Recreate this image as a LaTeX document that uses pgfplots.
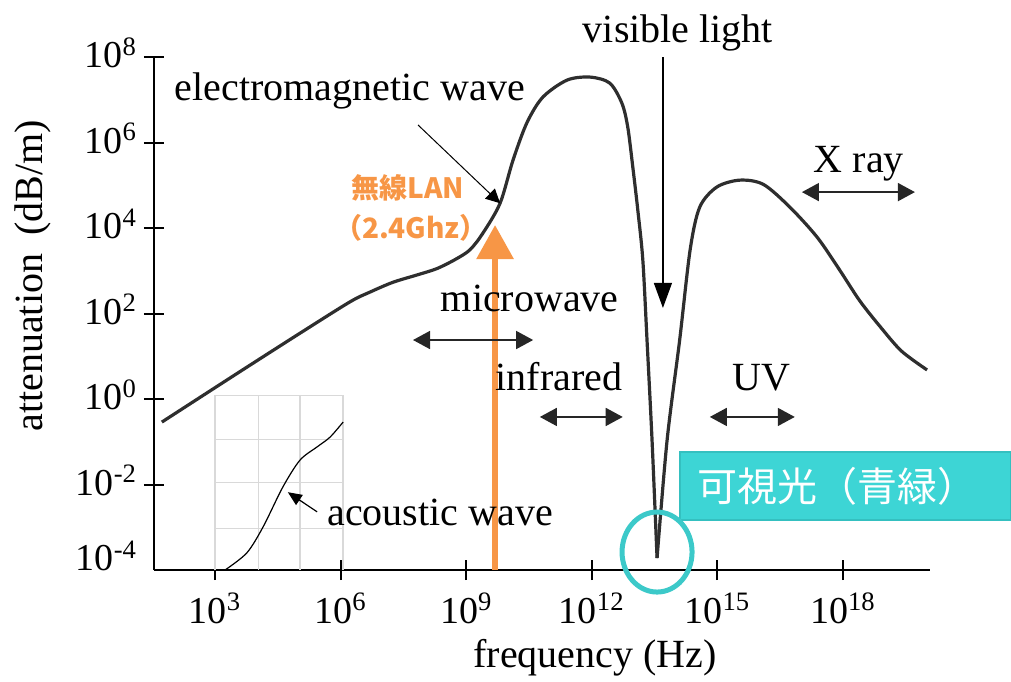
\documentclass[border=0pt]{standalone}
\usepackage{fontspec}
\setmainfont{Liberation Serif}
\newfontfamily\cjk{Noto Sans CJK JP}
\usepackage{pgfplots}
\pgfplotsset{compat=1.18}
\usepackage{pgfplotstable}
\usetikzlibrary{arrows.meta}
\definecolor{curvegray}{HTML}{2E2E2E}
\definecolor{lanorange}{HTML}{F79646}
\definecolor{tealbox}{HTML}{3DD5D5}
\definecolor{tealedge}{HTML}{34C0C0}
\definecolor{tealring}{HTML}{3CC9C9}
\definecolor{gridgray}{HTML}{D9D9D9}

\pgfplotstableread{
d e
1.73 -0.54
3.50 0.58
5.00 1.52
6.22 2.27
6.70 2.50
7.25 2.73
7.82 2.90
8.30 3.05
8.75 3.27
9.09 3.49
9.40 3.88
9.81 4.58
10.12 5.59
10.45 6.46
10.83 7.06
11.41 7.46
11.96 7.53
12.43 7.39
12.72 6.92
12.86 6.36
12.98 5.43
13.10 4.42
13.22 3.25
13.32 1.38
13.44 -0.96
13.56 -3.72
}\emleft
\pgfplotstableread{
d e
13.56 -3.72
13.80 -0.96
14.10 1.38
14.35 3.49
14.58 4.49
14.99 4.96
15.54 5.12
16.10 5.02
16.73 4.49
17.38 3.79
17.90 3.05
18.40 2.30
18.90 1.68
19.40 1.12
20.01 0.68
}\emright
\pgfplotstableread{
d e
3.24 -4.00
3.76 -3.60
4.15 -2.99
4.62 -2.06
5.03 -1.43
5.44 -1.12
5.75 -0.89
6.06 -0.54
}\acoustic

\begin{document}
\begin{tikzpicture}
\useasboundingbox (0,0) rectangle (505.5pt,340.5pt);
\begin{axis}[
  at={(77pt,55.5pt)}, anchor=south west,
  scale only axis, width=388pt, height=256.5pt,
  xmin=1.543, xmax=20.08, ymin=-4, ymax=8,
  axis x line*=bottom, axis y line*=left,
  axis line style={line width=1pt, black},
  tick align=center, major tick length=10pt,
  every tick/.style={black, line width=1pt},
  xtick={3,6,9,12,15,18},
  xticklabels={10\textsuperscript{3},10\textsuperscript{6},10\textsuperscript{9},10\textsuperscript{12},10\textsuperscript{15},10\textsuperscript{18}},
  ytick={-2,0,2,4,6,8},
  yticklabels={10\textsuperscript{-2},10\textsuperscript{0},10\textsuperscript{2},10\textsuperscript{4},10\textsuperscript{6},10\textsuperscript{8}},
  extra y ticks={-4}, extra y tick labels={10\textsuperscript{-4}},
  extra y tick style={major tick length=0pt, yticklabel style={xshift=-5pt, yshift=5pt}},
  ticklabel style={font=\fontsize{19}{22}\selectfont},
  xticklabel style={yshift=-3pt},
  yticklabel style={yshift=2pt},
  clip=false,
]
% inset grid
\draw[gridgray, line width=0.6pt] (axis cs:3,-4) -- (axis cs:3,0.09);
\draw[gridgray, line width=0.6pt] (axis cs:4.03,-4) -- (axis cs:4.03,0.09);
\draw[gridgray, line width=0.6pt] (axis cs:5.03,-4) -- (axis cs:5.03,0.09);
\draw[gridgray, line width=0.6pt] (axis cs:6.06,-4) -- (axis cs:6.06,0.09);
\draw[gridgray, line width=0.6pt] (axis cs:3,-3.02) -- (axis cs:6.06,-3.02);
\draw[gridgray, line width=0.6pt] (axis cs:3,-1.96) -- (axis cs:6.06,-1.96);
\draw[gridgray, line width=0.6pt] (axis cs:3,-0.94) -- (axis cs:6.06,-0.94);
\draw[gridgray, line width=0.6pt] (axis cs:3,0.09) -- (axis cs:6.06,0.09);

\addplot[curvegray, line width=1.6pt, smooth] table[x=d,y=e] {\emleft};
\addplot[curvegray, line width=1.6pt, smooth] table[x=d,y=e] {\emright};
\addplot[black, line width=0.6pt, smooth] table[x=d,y=e] {\acoustic};

% annotations
\node[anchor=base, font=\fontsize{20}{24}\selectfont] at (axis cs:6.22,6.99) {electromagnetic wave};
\draw[black, line width=0.5pt, -{Triangle[length=7pt,width=7pt]}] (axis cs:7.85,6.41) -- (axis cs:9.81,4.58);

\node[font=\cjk\bfseries\fontsize{14}{16}\selectfont, text=lanorange] at (axis cs:7.61,4.94) {無線LAN};
\node[font=\cjk\bfseries\fontsize{14}{16}\selectfont, text=lanorange] at (axis cs:7.68,4.0) {（2.4Ghz）};
\draw[lanorange, line width=3pt, -{Triangle[length=17pt,width=18pt]}] (axis cs:9.69,-4) -- (axis cs:9.69,4.07);

\node[anchor=base, font=\fontsize{20}{24}\selectfont] at (axis cs:10.52,2.04) {microwave};
\draw[black!85, line width=0.8pt, {Triangle[length=8.5pt,width=9pt]}-{Triangle[length=8.5pt,width=9pt]}] (axis cs:7.73,1.38) -- (axis cs:10.60,1.38);

\node[anchor=base, font=\fontsize{20}{24}\selectfont] at (axis cs:11.22,0.21) {infrared};
\draw[black!85, line width=0.8pt, {Triangle[length=8.5pt,width=9pt]}-{Triangle[length=8.5pt,width=9pt]}] (axis cs:10.76,-0.42) -- (axis cs:12.74,-0.42);

\node[anchor=base, font=\fontsize{20}{24}\selectfont] at (axis cs:16.06,0.21) {UV};
\draw[black!85, line width=0.8pt, {Triangle[length=8.5pt,width=9pt]}-{Triangle[length=8.5pt,width=9pt]}] (axis cs:14.82,-0.42) -- (axis cs:16.85,-0.42);

\node[anchor=base, font=\fontsize{20}{24}\selectfont] at (axis cs:14.06,8.35) {visible light};
\draw[black, line width=0.6pt, -{Triangle[length=12.5pt,width=9pt]}] (axis cs:13.70,8.0) -- (axis cs:13.70,2.13);

\node[anchor=base, font=\fontsize{20}{24}\selectfont] at (axis cs:18.38,5.29) {X ray};
\draw[black!85, line width=0.8pt, {Triangle[length=8.5pt,width=9pt]}-{Triangle[length=8.5pt,width=9pt]}] (axis cs:17.02,4.84) -- (axis cs:19.72,4.84);

\node[anchor=base west, inner sep=0pt, font=\fontsize{20}{24}\selectfont] at (axis cs:5.675,-2.95) {acoustic wave};
\draw[black, line width=0.6pt, -{Triangle[length=7pt,width=6pt]}] (axis cs:5.44,-2.64) -- (axis cs:4.74,-2.18);

% visible light highlight
\filldraw[fill=tealbox, draw=tealedge, line width=0.6pt] (axis cs:14.11,-2.83) rectangle (axis cs:22.01,-1.24);
\node[anchor=west, inner sep=0pt, text=white, font=\cjk\fontsize{20}{24}\selectfont] at (axis cs:14.51,-2.035) {可視光（青緑）};
\draw[tealring, line width=2.5pt] (axis cs:13.56,-3.58) ellipse [x radius=17.5pt, y radius=20pt];

% axis titles
\node[rotate=90, font=\fontsize{20}{24}\selectfont] at (axis cs:-1.35,2.88) {attenuation\hspace{0.45em}(dB/m)};
\node[anchor=base, font=\fontsize{20}{24}\selectfont] at (axis cs:12.08,-6.29) {frequency (Hz)};
\end{axis}
\end{tikzpicture}
\end{document}
